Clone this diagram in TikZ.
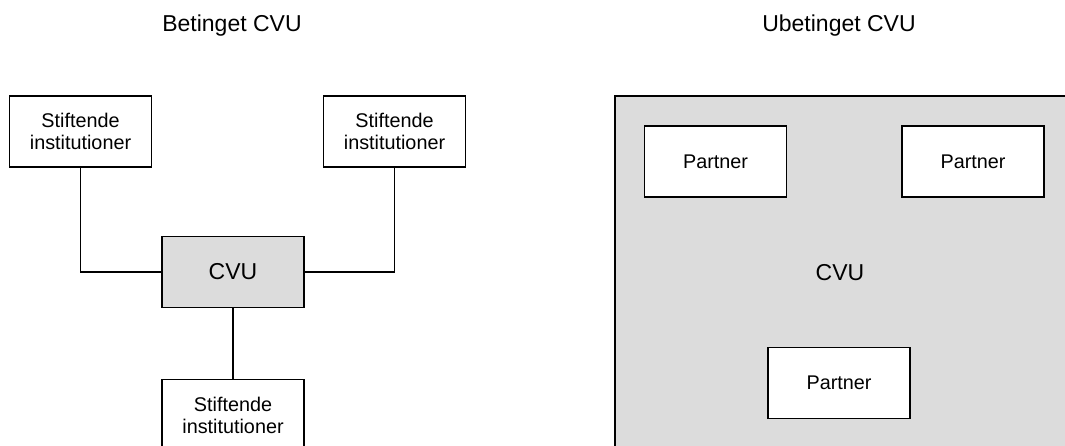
\documentclass[tikz,border=0pt]{standalone}
\usepackage{fontspec}
\setmainfont{Liberation Sans}
\usepackage{tikz}
\usetikzlibrary{calc}
\usetikzlibrary{positioning}
\definecolor{cvugray}{rgb}{0.863, 0.863, 0.863}
\tikzset{
	boxnode/.style = {draw, line width=1.2pt, minimum width=142pt, minimum height=71pt, inner sep=0pt, align=center, font=\fontsize{19.8}{22}\selectfont},
	bignode/.style = {font=\fontsize{23}{26}\selectfont},
	linkline/.style = {line width=1.2pt}
}
\begin{document}
\begin{tikzpicture}[x=1pt, y=-1pt]
						\useasboundingbox (0,0) rectangle (1065,446);
						\clip (0,0) rectangle (1065,446);

						\def\lefttop{131.5}
						\def\righttop{161.5}

						\node[bignode, anchor=base] (titleL) at (232,32) {Betinget CVU};
						\node[bignode, anchor=base] (titleR) at (839,32) {Ubetinget CVU};

						\fill[cvugray] (615,96) rectangle (1075,455);
						\draw[line width=1.2pt] (615,455) -- (615,96) -- (1075,96);

						\node[boxnode] (stL) at (80.5,\lefttop) {Stiftende\\institutioner};
						\node[boxnode] (stR) at (394.5,\lefttop) {Stiftende\\institutioner};
						\node[boxnode, bignode, fill=cvugray] (cvuL) at (233,272) {CVU};
						\node[boxnode] (stB) at (233,415) {Stiftende\\institutioner};

						\draw[linkline] (stL.south) |- (cvuL.west);
						\draw[linkline] (stR.south) |- (cvuL.east);
						\draw[linkline] (cvuL.south) -- (stB.north);

						\node[boxnode, fill=white] (pA) at (715.5,\righttop) {Partner};
						\node[boxnode, fill=white] (pB) at (973,\righttop) {Partner};
						\node[bignode] (cvuR) at (840,273) {CVU};
						\node[boxnode, fill=white] (pC) at (839,383) {Partner};
					\end{tikzpicture}
\end{document}
